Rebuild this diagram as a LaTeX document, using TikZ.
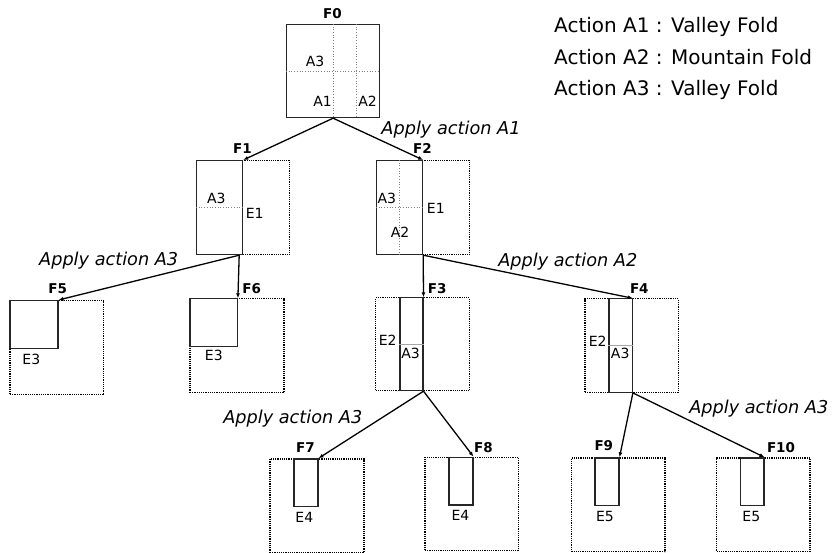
\documentclass[tikz,border=0pt]{standalone}
\usepackage{fontspec}
\setmainfont{DejaVu Sans}
\usetikzlibrary{arrows.meta,calc}

\tikzset{
  sheet/.style={draw=black!85, fill=white, line width=1.2pt, inner sep=0pt, anchor=north west},
  ghost/.style={draw, densely dotted, line width=1.2pt, inner sep=0pt, anchor=north west},
  crease/.style={gray, dotted, line width=0.7pt},
  seam/.style={gray!70, line width=0.6pt},
  lbl/.style={font=\fontsize{14}{16}\selectfont, inner sep=0pt, anchor=base},
  fname/.style={font=\bfseries\fontsize{13.5}{16}\selectfont, inner sep=0pt, anchor=base},
  act/.style={font=\itshape\fontsize{17.7}{20}\selectfont, inner sep=0pt, anchor=base},
  legend/.style={font=\fontsize{20}{24}\selectfont, inner sep=0pt, anchor=base west},
  move/.style={->, line width=1.3pt},
}

\begin{document}
\begin{tikzpicture}[x=1pt, y=-1pt, >={Latex[length=5pt,width=4pt]}]
  \useasboundingbox (0,0) rectangle (835,553);

  % unfolded outlines
  \node [ghost, minimum width=93pt, minimum height=94pt] (g1) at (196,160) {};
  \node [ghost, minimum width=93pt, minimum height=94pt] (g2) at (376,160) {};
  \node [ghost, minimum width=93.7pt, minimum height=94pt] (g5) at (9.3,300) {};
  \node [ghost, minimum width=94pt, minimum height=93.4pt] (g6) at (189.3,298.3) {};
  \node [ghost, minimum width=94pt, minimum height=92.7pt] (g3) at (375,297.3) {};
  \node [ghost, minimum width=93.4pt, minimum height=93.4pt] (g4) at (584.3,298.3) {};
  \node [ghost, minimum width=94pt, minimum height=93.4pt] (g7) at (269.3,458.3) {};
  \node [ghost, minimum width=93.4pt, minimum height=93.3pt] (g8) at (424.3,456.7) {};
  \node [ghost, minimum width=93.6pt, minimum height=93.7pt] (g9) at (570.7,457.3) {};
  \node [ghost, minimum width=93.3pt, minimum height=93.7pt] (g10) at (716,457.3) {};

  % folded sheets
  \node [sheet, minimum width=93pt, minimum height=93pt] (f0) at (286,24) {};
  \node [sheet, minimum width=46pt, minimum height=94pt] (f1) at (196,160) {};
  \node [sheet, minimum width=46pt, minimum height=94pt] (f2) at (376,160) {};
  \node [sheet, minimum width=48pt, minimum height=47.7pt] (f5) at (9.3,300) {};
  \node [sheet, minimum width=47.4pt, minimum height=47.7pt] (f6) at (189.3,298.3) {};
  \node [sheet, minimum width=23pt, minimum height=92.7pt] (f3) at (399.3,297.3) {};
  \node [sheet, minimum width=23.4pt, minimum height=93.4pt] (f4) at (608.3,298.3) {};
  \node [sheet, minimum width=24pt, minimum height=47.4pt] (f7) at (293.3,458.3) {};
  \node [sheet, minimum width=24pt, minimum height=47.6pt] (f8) at (448.3,456.7) {};
  \node [sheet, minimum width=24pt, minimum height=47.7pt] (f9) at (594.3,457.3) {};
  \node [sheet, minimum width=23.3pt, minimum height=47.7pt] (f10) at (740,457.3) {};

  % creases
  \draw [crease] (f0.north) -- (f0.south);
  \draw [crease] ($(f0.north west)!.75!(f0.north east)$) -- ($(f0.south west)!.75!(f0.south east)$);
  \draw [crease] (f0.west) -- (f0.east);
  \draw [crease] (f1.west) -- (f1.east);
  \draw [crease] (f2.west) -- (f2.east);
  \draw [crease] (f2.north) -- (f2.south);
  \draw [seam] (f3.west) -- (f3.east);
  \draw [seam] (f4.west) -- (f4.east);

  % sheet names
  \node [fname] (n0) at (332.5,18.3) {F0};
  \node [fname] (n1) at (242.5,153.3) {F1};
  \node [fname] (n2) at (422.5,153.3) {F2};
  \node [fname] (n5) at (57.8,293.3) {F5};
  \node [fname] (n6) at (251.8,293.3) {F6};
  \node [fname] (n3) at (437.2,293.3) {F3};
  \node [fname] (n4) at (639.3,293.3) {F4};
  \node [fname] (n7) at (305.5,452.7) {F7};
  \node [fname] (n8) at (483.5,452.7) {F8};
  \node [fname] (n9) at (603.8,450.7) {F9};
  \node [fname] (n10) at (781,452.3) {F10};

  % region labels
  \node [lbl] (a03) at (315,67) {A3};
  \node [lbl] (a01) at (322.5,106.7) {A1};
  \node [lbl] (a02) at (367.5,106.7) {A2};
  \node [lbl] (a13) at (216.3,203.3) {A3};
  \node [lbl] (e11) at (254.7,218.3) {E1};
  \node [lbl] (a23) at (386.8,204) {A3};
  \node [lbl] (a22) at (400,237.7) {A2};
  \node [lbl] (e21) at (435.8,213.3) {E1};
  \node [lbl] (e53) at (31.3,364) {E3};
  \node [lbl] (e63) at (213.8,360.7) {E3};
  \node [lbl] (e32) at (387.7,345.7) {E2};
  \node [lbl] (a33) at (410.5,358.3) {A3};
  \node [lbl] (e42) at (597.7,346.7) {E2};
  \node [lbl] (a43) at (620.2,358.3) {A3};
  \node [lbl] (e74) at (304.3,522.3) {E4};
  \node [lbl] (e84) at (460.5,520) {E4};
  \node [lbl] (e95) at (605,521) {E5};
  \node [lbl] (e105) at (751.3,521) {E5};

  % actions
  \node [act] (act1) at (451,135) {Apply action A1};
  \node [act] (act3a) at (108.7,265.7) {Apply action A3};
  \node [act] (act2) at (567.8,266.7) {Apply action A2};
  \node [act] (act3b) at (292.8,423.3) {Apply action A3};
  \node [act] (act3c) at (758.8,413.3) {Apply action A3};

  % legend
  \node [legend] (l1) at (554,32.3) {Action A1 : Valley Fold};
  \node [legend] (l2) at (554,65) {Action A2 : Mountain Fold};
  \node [legend] (l3) at (554,95.5) {Action A3 : Valley Fold};

  % moves
  \coordinate (s1) at ([xshift=-4pt]f1.south east);
  \draw [move] (f0.south) -- (f1.north east);
  \draw [move] (f0.south) -- (f2.north east);
  \draw [move] (s1) -- (f5.north east);
  \draw [move] (s1) -- (f6.north east);
  \draw [move] (f2.south east) -- (f3.north east);
  \draw [move] (f2.south east) -- (f4.north east);
  \draw [move] (f3.south east) -- (f7.north east);
  \draw [move] (f3.south east) -- (f8.north east);
  \draw [move] (f4.south east) -- (f9.north east);
  \draw [move] (f4.south east) -- (f10.north east);
\end{tikzpicture}
\end{document}
